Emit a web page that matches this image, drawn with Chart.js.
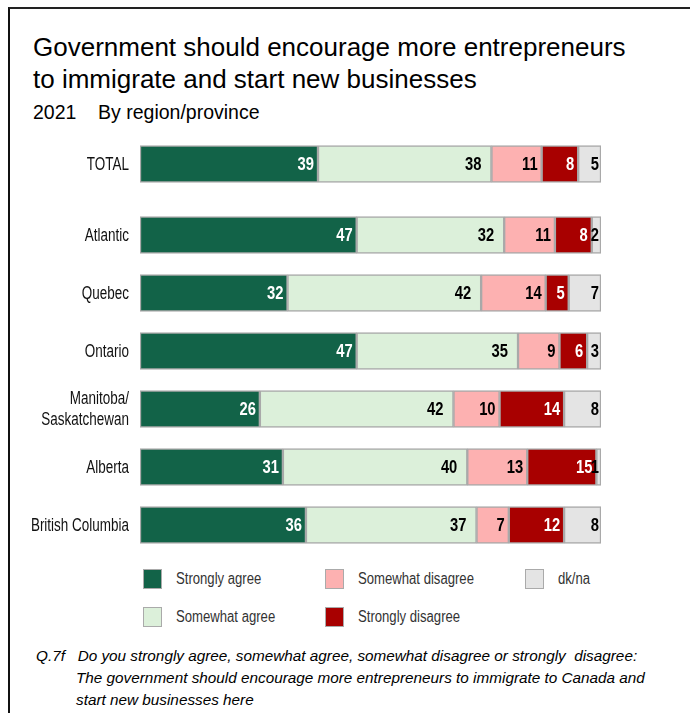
<!DOCTYPE html>
<html>
<head>
<meta charset="utf-8">
<script src="https://cdn.jsdelivr.net/npm/chart.js@4.4.1/dist/chart.umd.min.js"></script>
<style>
  body { margin: 0; width: 690px; height: 713px; background: #fff; position: relative; overflow: hidden; font-family: "Liberation Sans", Arial, sans-serif; color: #000; }
  .frame { position: absolute; left: 8px; top: 7px; right: -4px; bottom: -4px; border-left: 2.5px solid #111; border-top: 2.5px solid #222; }
  .title { position: absolute; left: 33px; top: 31px; font-size: 26px; line-height: 32px; white-space: nowrap; }
  .sub { position: absolute; left: 33px; top: 100px; font-size: 19.5px; line-height: 24px; white-space: pre; }
  canvas { position: absolute; }
  #legend { position: absolute; left: 143px; top: 569px; display: grid; grid-template-columns: 182px 200px 120px; grid-auto-flow: column; grid-template-rows: 38px 38px; font-size: 16px; color: #333; }
  #legend .item { display: flex; align-items: flex-start; }
  #legend .box { width: 19px; height: 20px; border: 1px solid #aaa; box-sizing: border-box; margin-right: 14px; flex: none; }
  #legend span { line-height: 20px; display: inline-block; transform: scaleX(0.82); transform-origin: left center; white-space: nowrap; }
  .note { position: absolute; left: 36px; top: 645px; font-size: 15.3px; line-height: 22px; font-style: italic; white-space: pre; }
  .note .rest { padding-left: 40px; }
</style>
</head>
<body>
<div class="frame"></div>
<div class="title">Government should encourage more entrepreneurs<br>to immigrate and start new businesses</div>
<div class="sub">2021    By region/province</div>
<canvas id="totalChart" width="600" height="48" style="left:10px;top:140px"></canvas>
<canvas id="regionChart" width="600" height="348" style="left:10px;top:206px"></canvas>
<div id="legend"></div>
<div class="note">Q.7f   Do you strongly agree, somewhat agree, somewhat disagree or strongly  disagree:
<span class="rest">The government should encourage more entrepreneurs to immigrate to Canada and</span>
<span class="rest">start new businesses here</span></div>

<script>
// survey results, % of respondents
const totalLabels = ['TOTAL'];
const regionLabels = ['Atlantic', 'Quebec', 'Ontario', ['Manitoba/', 'Saskatchewan'], 'Alberta', 'British Columbia'];

const seriesNames = ['Strongly agree', 'Somewhat agree', 'Somewhat disagree', 'Strongly disagree', 'dk/na'];

// first entry is TOTAL, rest follow regionLabels
const stronglyAgree    = [39, 47, 32, 47, 26, 31, 36];
const somewhatAgree    = [38, 32, 42, 35, 42, 40, 37];
const somewhatDisagree = [11, 11, 14,  9, 10, 13,  7];
const stronglyDisagree = [ 8,  8,  5,  6, 14, 15, 12];
const dkna             = [ 5,  2,  7,  3,  8,  1,  8];

const allSeries = [stronglyAgree, somewhatAgree, somewhatDisagree, stronglyDisagree, dkna];
const fills = ['#126348', '#dcf0da', '#fdb1b1', '#a80000', '#e4e4e4'];
const textColors = ['#fff', '#000', '#000', '#fff', '#000'];
const textPads = [4, 10, 4, 4, 2];

const sans = '"Liberation Sans", Arial, sans-serif';

// no narrow face installed, so squeeze the regular one
function drawNarrow(ctx, text, x, y, sx) {
  ctx.save();
  ctx.translate(x, y);
  ctx.scale(sx, 1);
  ctx.fillText(text, 0, 0);
  ctx.restore();
}

const rowText = {
  id: 'rowText',
  afterDatasetsDraw(chart) {
    const ctx = chart.ctx;
    const yScale = chart.scales.y;
    ctx.save();
    ctx.textAlign = 'right';
    ctx.textBaseline = 'middle';

    // category names left of the bars
    ctx.font = '17.5px ' + sans;
    ctx.fillStyle = '#111';
    chart.data.labels.forEach((label, i) => {
      const lines = [].concat(label);
      const cy = yScale.getPixelForTick(i);
      lines.forEach((line, k) => {
        drawNarrow(ctx, line, chart.chartArea.left - 11, cy + 1 + (k - (lines.length - 1) / 2) * 21, 0.77);
      });
    });

    // segment values, right-aligned inside each segment
    ctx.font = 'bold 18px ' + sans;
    chart.data.datasets.forEach((ds, i) => {
      chart.getDatasetMeta(i).data.forEach((bar, j) => {
        ctx.fillStyle = textColors[i];
        drawNarrow(ctx, String(ds.data[j]), bar.x - textPads[i], bar.y + 1, 0.82);
      });
    });
    ctx.restore();
  }
};

function makeChart(id, labels, from, to) {
  const datasets = allSeries.map((s, i) => ({
    label: seriesNames[i],
    data: s.slice(from, to),
    backgroundColor: fills[i],
    borderColor: '#a9a9a9',
    borderWidth: 1.5,
    borderSkipped: false,
    barThickness: 37
  }));
  // stretch every row to the full width
  const sums = labels.map((_, j) => datasets.reduce((a, d) => a + d.data[j], 0));
  return new Chart(document.getElementById(id), {
    type: 'bar',
    data: { labels, datasets },
    options: {
      indexAxis: 'y',
      responsive: false,
      animation: false,
      layout: { padding: { right: 9 } },
      plugins: { legend: { display: false }, tooltip: { enabled: false } },
      scales: {
        x: { stacked: true, min: 0, max: Math.max(...sums), display: false },
        y: {
          stacked: true,
          grid: { display: false, drawTicks: false },
          border: { display: false },
          ticks: { display: false },
          afterFit(scale) { scale.width = 130; }
        }
      }
    },
    plugins: [rowText]
  });
}

makeChart('totalChart', totalLabels, 0, 1);
makeChart('regionChart', regionLabels, 1, 7);

// legend, filled column by column
const legend = document.getElementById('legend');
seriesNames.forEach((name, i) => {
  const item = document.createElement('div');
  item.className = 'item';
  item.innerHTML = '<div class="box" style="background:' + fills[i] + '"></div><span>' + name + '</span>';
  legend.appendChild(item);
});
</script>
</body>
</html>
